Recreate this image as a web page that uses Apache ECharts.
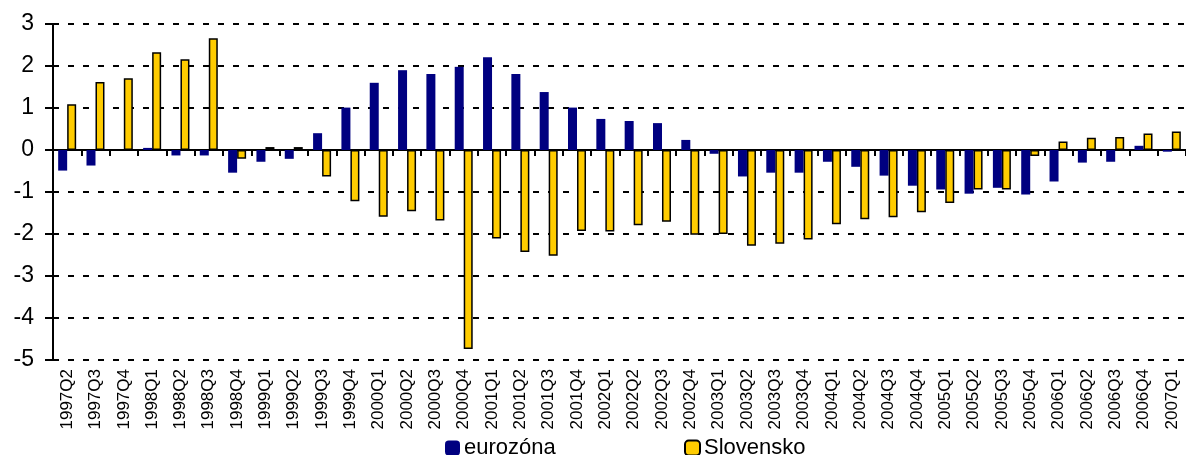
<!DOCTYPE html>
<html>
<head>
<meta charset="utf-8">
<script src="https://cdn.jsdelivr.net/npm/echarts@6/dist/echarts.min.js"></script>
<style>
html,body{margin:0;padding:0;background:#fff;}
#chart{width:1186px;height:455px;}
</style>
</head>
<body>
<div id="chart"></div>
<script>
var quarters = ['1997Q2','1997Q3','1997Q4','1998Q1','1998Q2','1998Q3','1998Q4','1999Q1','1999Q2','1999Q3','1999Q4','2000Q1','2000Q2','2000Q3','2000Q4','2001Q1','2001Q2','2001Q3','2001Q4','2002Q1','2002Q2','2002Q3','2002Q4','2003Q1','2003Q2','2003Q3','2003Q4','2004Q1','2004Q2','2004Q3','2004Q4','2005Q1','2005Q2','2005Q3','2005Q4','2006Q1','2006Q2','2006Q3','2006Q4','2007Q1'];
var eurozona = [-0.49,-0.37,0,0.05,-0.13,-0.13,-0.54,-0.28,-0.21,0.40,1.01,1.60,1.90,1.81,1.98,2.21,1.81,1.38,1.01,0.74,0.69,0.64,0.24,-0.09,-0.63,-0.54,-0.54,-0.28,-0.40,-0.61,-0.85,-0.94,-1.04,-0.90,-1.06,-0.75,-0.30,-0.28,0.10,-0.04];
var slovensko = [1.09,1.62,1.71,2.33,2.16,2.66,-0.21,0.07,0.07,-0.63,-1.22,-1.59,-1.46,-1.68,-4.74,-2.11,-2.43,-2.52,-1.93,-1.94,-1.79,-1.71,-2.02,-2.00,-2.28,-2.23,-2.13,-1.77,-1.65,-1.60,-1.48,-1.26,-0.94,-0.94,-0.14,0.20,0.29,0.31,0.39,0.44];
var yTicks = {min:-5, max:3, interval:1};
var seriesNames = ['eurozóna','Slovensko'];

var FONT = 'Liberation Sans, Arial, sans-serif';
var chart = echarts.init(document.getElementById('chart'), null, {renderer:'canvas'});
chart.setOption({
  animation:false,
  backgroundColor:'#fff',
  grid:{left:53, top:24, width:1141, height:336, containLabel:false},
  legend:[
    {data:[seriesNames[0]], left:440, top:432, itemWidth:15, itemHeight:15, itemGap:0,
     textStyle:{fontFamily:FONT, fontSize:22, color:'#000', padding:[0,0,0,-1]}},
    {data:[seriesNames[1]], left:679, top:432, itemWidth:15, itemHeight:15, itemGap:0,
     textStyle:{fontFamily:FONT, fontSize:22, color:'#000', padding:[0,0,0,-1]}}
  ],
  xAxis:[
    {type:'category', data:quarters, position:'bottom',
     axisLine:{show:false, onZero:false}, axisTick:{show:false},
     axisLabel:{rotate:90, interval:0, margin:9, fontFamily:FONT, fontSize:17, color:'#000'}},
    {type:'category', data:quarters, position:'top',
     axisLine:{show:true, onZero:true, lineStyle:{color:'#000', width:2}},
     axisTick:{show:true, inside:true, length:6, interval:0, lineStyle:{color:'#000', width:2}},
     axisLabel:{show:false}}
  ],
  yAxis:{type:'value', min:yTicks.min, max:yTicks.max, interval:yTicks.interval,
    axisLine:{show:true, onZero:false, lineStyle:{color:'#000', width:2}},
    axisTick:{show:true, length:8, lineStyle:{color:'#000', width:2}},
    axisLabel:{margin:19, fontFamily:FONT, fontSize:23, color:'#000'},
    splitLine:{show:true, lineStyle:{color:'#000', width:2, type:[6,9]}}
  },
  series:[
    {name:seriesNames[0], type:'bar', data:eurozona, xAxisIndex:0, barWidth:9, barGap:'0%',
     itemStyle:{color:'#000080'}},
    {name:seriesNames[1], type:'bar', data:slovensko, xAxisIndex:0, barWidth:9, barGap:'0%',
     itemStyle:{color:'#FFCC00', borderColor:'#000', borderWidth:1.5}}
  ]
});
</script>
</body>
</html>
